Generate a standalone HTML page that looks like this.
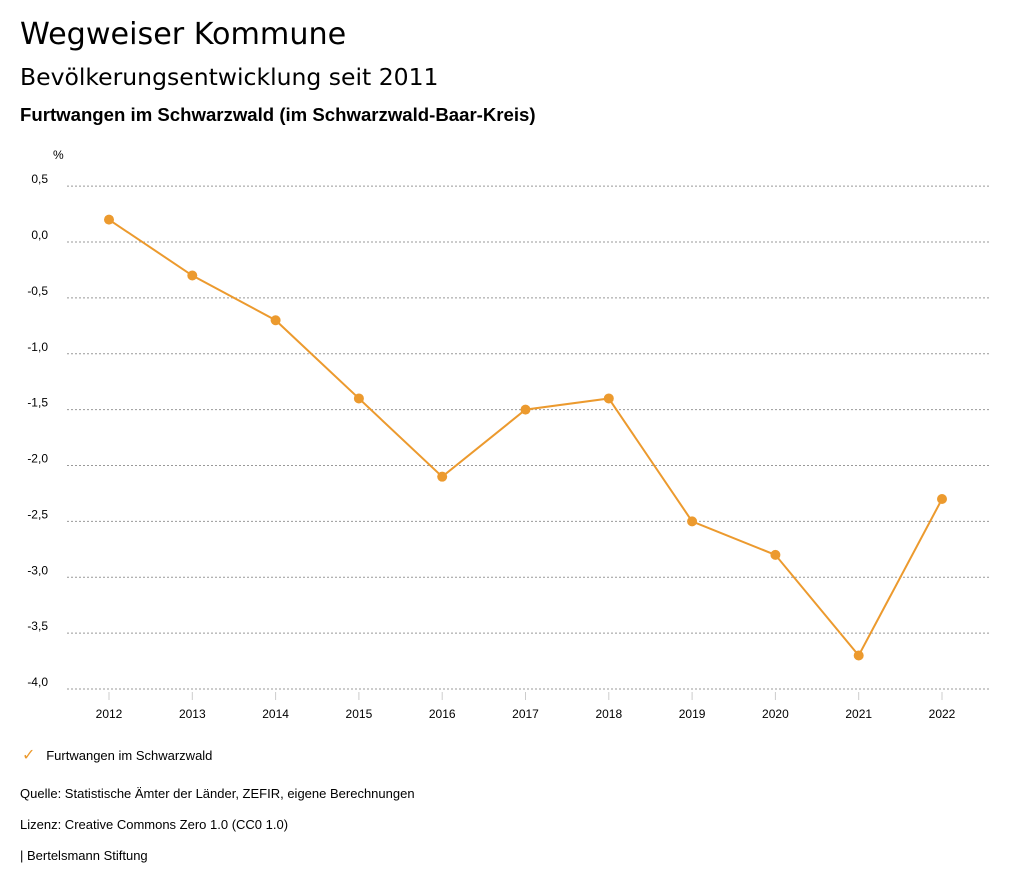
<!DOCTYPE html>
<html><head><meta charset="utf-8"><style>
body{margin:0;width:1024px;height:888px;background:#fff;font-family:"Liberation Sans",sans-serif;color:#000;overflow:hidden}
.t{position:absolute;left:20px;white-space:nowrap}
</style></head><body>
<div class="t" style="top:17px;font-size:30.2px;font-family:'DejaVu Sans',sans-serif">Wegweiser Kommune</div>
<div class="t" style="top:63px;font-size:23.5px;font-family:'DejaVu Sans',sans-serif">Bevölkerungsentwicklung seit 2011</div>
<div class="t" style="top:104px;font-size:18.6px;font-weight:bold">Furtwangen im Schwarzwald (im Schwarzwald-Baar-Kreis)</div>
<svg id="c" width="1024" height="888" style="position:absolute;left:0;top:0"></svg>
<div class="t" style="top:745px;left:22px;font-size:13px"><span style="color:#ec9a2e;font-size:16px">✓</span>&nbsp;&nbsp; Furtwangen im Schwarzwald</div>
<div class="t" style="top:786px;font-size:13px">Quelle: Statistische Ämter der Länder, ZEFIR, eigene Berechnungen</div>
<div class="t" style="top:817px;font-size:13px">Lizenz: Creative Commons Zero 1.0 (CC0 1.0)</div>
<div class="t" style="top:848px;font-size:13px">| Bertelsmann Stiftung</div>
<script>
const years=["2012","2013","2014","2015","2016","2017","2018","2019","2020","2021","2022"];
const values=[0.2,-0.3,-0.7,-1.4,-2.1,-1.5,-1.4,-2.5,-2.8,-3.7,-2.3];
const yTicks=[0.5,0,-0.5,-1,-1.5,-2,-2.5,-3,-3.5,-4];
const NS="http://www.w3.org/2000/svg",svg=document.getElementById('c');
const y=v=>242-v*111.75, x=i=>109+i*83.3;
function mk(t,a){const e=document.createElementNS(NS,t);for(const k in a)e.setAttribute(k,a[k]);svg.appendChild(e);return e;}
let u=mk('text',{x:53,y:159,'font-size':12});u.textContent='%';


yTicks.forEach(v=>{
 let l=mk('line',{x1:67,x2:990,y1:y(v),y2:y(v),stroke:'#999','stroke-dasharray':'2,2'});
 
 
 let t=mk('text',{x:48,y:y(v)-3,'font-size':12,'text-anchor':'end'});t.textContent=v.toFixed(1).replace('.',',').replace('-0,0','0,0');
 
 
});
years.forEach((yr,i)=>{
 let k=mk('line',{x1:x(i),x2:x(i),y1:692,y2:700,stroke:'#ccc'});
 
 
 let t=mk('text',{x:x(i),y:718,'font-size':12,'text-anchor':'middle'});t.textContent=yr;
 
 
});
let p=mk('polyline',{points:values.map((v,i)=>x(i)+','+y(v)).join(' '),fill:'none',stroke:'#ec9a2e','stroke-width':2});


values.forEach((v,i)=>{
 let c=mk('circle',{cx:x(i),cy:y(v),r:5,fill:'#ec9a2e'});
 
 
});
</script>
</body></html>
